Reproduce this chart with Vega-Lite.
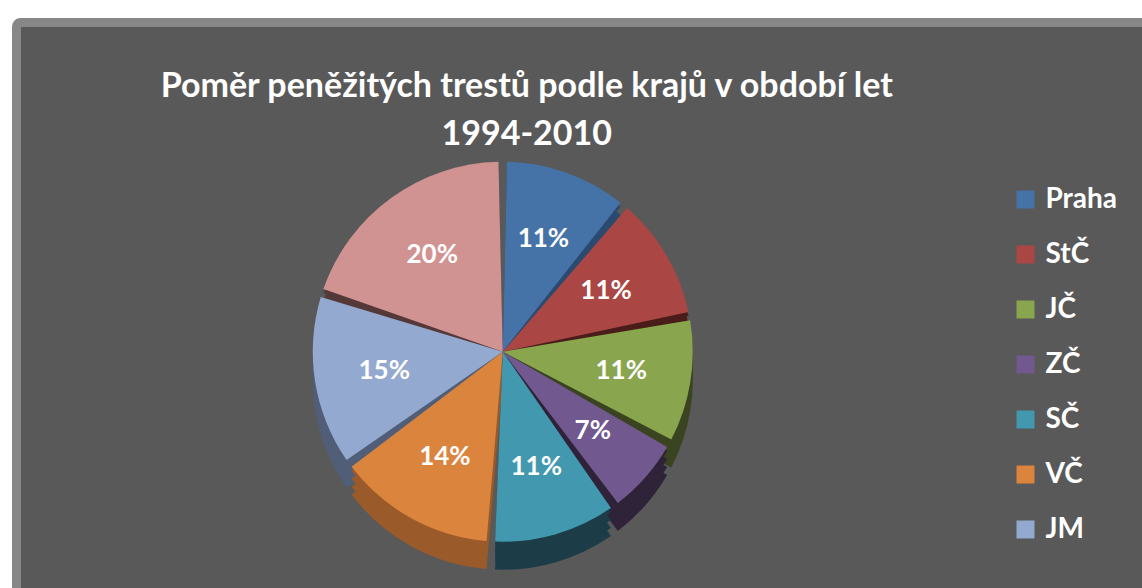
{
  "$schema": "https://vega.github.io/schema/vega-lite/v6.json",
  "width": 1142,
  "height": 588,
  "autosize": {"type": "fit", "contains": "padding"},
  "padding": {"top": 17.5, "left": 11.5, "right": -10, "bottom": -14},
  "background": "#ffffff",
  "config": {"view": {"stroke": null}},
  "title": {
    "text": ["Poměr peněžitých trestů podle krajů v období let", "1994-2010"],
    "font": "Lato",
    "fontSize": 34,
    "fontWeight": "bold",
    "color": "#ffffff",
    "anchor": "middle",
    "offset": -134,
    "dx": -55,
    "lineHeight": 48
  },
  "data": {
    "values": [
      {"idx": 1, "region": "Praha", "share": 11, "label": "11%"},
      {"idx": 2, "region": "StČ", "share": 11, "label": "11%"},
      {"idx": 3, "region": "JČ", "share": 11, "label": "11%"},
      {"idx": 4, "region": "ZČ", "share": 7, "label": "7%"},
      {"idx": 5, "region": "SČ", "share": 11, "label": "11%"},
      {"idx": 6, "region": "VČ", "share": 14, "label": "14%"},
      {"idx": 7, "region": "JM", "share": 15, "label": "15%"},
      {"idx": 8, "region": "SM", "share": 20, "label": "20%"}
    ]
  },
  "layer": [
    {
      "data": {"values": [{"frame": 1}]},
      "mark": {"type": "rect", "fill": "#595959", "stroke": "#878787", "strokeWidth": 9, "cornerRadius": 4},
      "encoding": {}
    },
    {
      "mark": {"type": "arc", "outerRadius": 190, "padAngle": 0.045, "xOffset": -79, "yOffset": 70},
      "encoding": {
        "theta": {"field": "share", "type": "quantitative", "stack": true},
        "order": {"field": "idx", "type": "quantitative"},
        "color": {"field": "region", "type": "nominal", "legend": null, "scale": {"domain": ["Praha", "StČ", "JČ", "ZČ", "SČ", "VČ", "JM", "SM"], "range": ["#2B4A70", "#4A1C1A", "#3A4421", "#2E2338", "#1C3D48", "#9A5A2A", "#515E78", "#553838"]}}}
    },
    {
      "mark": {"type": "arc", "outerRadius": 190, "padAngle": 0.045, "xOffset": -79, "yOffset": 62},
      "encoding": {
        "theta": {"field": "share", "type": "quantitative", "stack": true},
        "order": {"field": "idx", "type": "quantitative"},
        "color": {"field": "region", "type": "nominal", "legend": null, "scale": {"domain": ["Praha", "StČ", "JČ", "ZČ", "SČ", "VČ", "JM", "SM"], "range": ["#2B4A70", "#4A1C1A", "#3A4421", "#2E2338", "#1C3D48", "#9A5A2A", "#515E78", "#553838"]}}}
    },
    {
      "mark": {"type": "arc", "outerRadius": 190, "padAngle": 0.045, "xOffset": -79, "yOffset": 54},
      "encoding": {
        "theta": {"field": "share", "type": "quantitative", "stack": true},
        "order": {"field": "idx", "type": "quantitative"},
        "color": {"field": "region", "type": "nominal", "legend": null, "scale": {"domain": ["Praha", "StČ", "JČ", "ZČ", "SČ", "VČ", "JM", "SM"], "range": ["#2B4A70", "#4A1C1A", "#3A4421", "#2E2338", "#1C3D48", "#9A5A2A", "#515E78", "#553838"]}}}
    },
    {
      "mark": {"type": "arc", "outerRadius": 190, "padAngle": 0.045, "xOffset": -79, "yOffset": 46},
      "encoding": {
        "theta": {"field": "share", "type": "quantitative", "stack": true},
        "order": {"field": "idx", "type": "quantitative"},
        "color": {"field": "region", "type": "nominal", "legend": null, "scale": {"domain": ["Praha", "StČ", "JČ", "ZČ", "SČ", "VČ", "JM", "SM"], "range": ["#2B4A70", "#4A1C1A", "#3A4421", "#2E2338", "#1C3D48", "#9A5A2A", "#515E78", "#553838"]}}}
    },
    {
      "mark": {"type": "arc", "outerRadius": 190, "padAngle": 0.045, "xOffset": -79, "yOffset": 42},
      "encoding": {
        "theta": {"field": "share", "type": "quantitative", "stack": true},
        "order": {"field": "idx", "type": "quantitative"},
        "color": {"field": "region", "type": "nominal", "scale": {"domain": ["Praha", "StČ", "JČ", "ZČ", "SČ", "VČ", "JM", "SM"], "range": ["#4572A7", "#AA4643", "#89A54E", "#71588F", "#4198AF", "#DB843D", "#93A9CF", "#D19392"]},
        "legend": {"orient": "none", "legendX": 995, "legendY": 163, "title": null, "values": ["Praha", "StČ", "JČ", "ZČ", "SČ", "VČ", "JM"], "symbolType": "square", "symbolSize": 324, "symbolStrokeWidth": 0, "labelFont": "Lato", "labelFontSize": 28, "labelFontWeight": "bold", "labelColor": "#ffffff", "rowPadding": 27, "labelOffset": 6, "padding": 0, "labelLimit": 200}}}
    },
    {
      "mark": {"type": "text", "radius": 120, "xOffset": -79, "yOffset": 42, "font": "Lato", "fontSize": 26, "fontWeight": "bold", "fill": "#ffffff"},
      "encoding": {
        "theta": {"field": "share", "type": "quantitative", "stack": true},
        "order": {"field": "idx", "type": "quantitative"},
        "text": {"field": "label", "type": "nominal"}}
    }
  ],
  "resolve": {"scale": {"color": "independent"}}
}
